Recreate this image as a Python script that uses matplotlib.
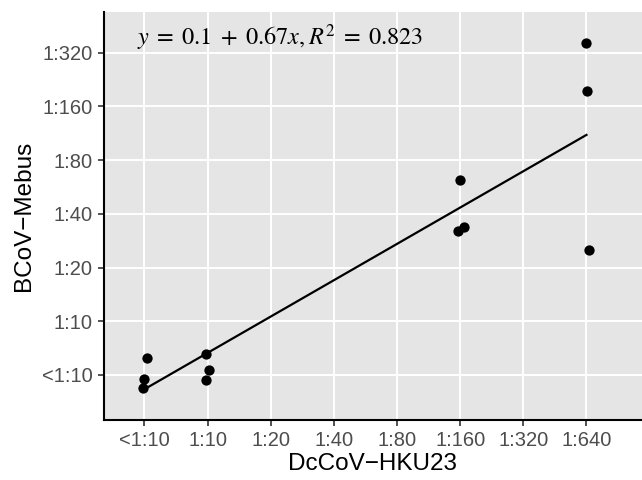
import numpy as np
import matplotlib
matplotlib.use("Agg")
import matplotlib.pyplot as plt

plt.rcParams['font.family'] = ['Liberation Sans', 'DejaVu Sans']
plt.rcParams['mathtext.fontset'] = 'stix'

# titer categories (index positions on both axes)
titres = ['<1:10', '1:10', '1:20', '1:40', '1:80', '1:160', '1:320', '1:640']

# jittered sample positions (in category index units)
x_hku23 = [7.00, 7.01, 7.04, 5.00, 4.97, 5.06, 0.04, 0.00, -0.03, 0.98, 1.03, 0.98]
y_mebus = [6.18, 5.28, 2.33, 3.63, 2.68, 2.76, 0.31, -0.07, -0.24, 0.385, 0.09, -0.09]

etiqueta = r'$y\;=\;0.1\;+\;0.67x, R^2\;=\;0.823$'

x = np.array(x_hku23)
y = np.array(y_mebus)
pend, inter = np.polyfit(x, y, 1)
x_lin = np.array([0, 7])
y_lin = inter + pend * x_lin

fig = plt.figure(figsize=(6.42, 4.8), dpi=100)
ax = fig.add_axes([104 / 642, 1 - 420 / 480, 1 - 104 / 642, (420 - 12) / 480])
ax.set_facecolor('#E5E5E5')

ax.scatter(x, y, s=55, color='black', zorder=3, linewidths=0)
ax.plot(x_lin, y_lin, color='black', lw=1.6, zorder=2)

ax.set_xticks(range(len(titres)))
ax.set_xticklabels(titres)
ax.set_yticks(range(7))
ax.set_yticklabels(titres[:7])
ax.set_xlim(-0.64, 7.88)
ax.set_ylim(-0.84, 6.76)

ax.grid(True, color='white', lw=1.4)
ax.set_axisbelow(True)
for lado in ['top', 'right']:
    ax.spines[lado].set_visible(False)
for lado in ['left', 'bottom']:
    ax.spines[lado].set_color('black')
    ax.spines[lado].set_linewidth(1.5)
ax.tick_params(colors='#4D4D4D', labelsize=14.5, length=4, width=1.2, pad=4)
ax.tick_params(axis='both', color='#333333')

ax.set_xlabel('DcCoV\u2212HKU23', fontsize=17.5, labelpad=2)
ax.set_ylabel('BCoV\u2212Mebus', fontsize=17.5, labelpad=5)

ax.text(0.062, 0.975, etiqueta, transform=ax.transAxes, fontsize=17.5,
        ha='left', va='top', color='black')

fig.savefig('out.png', dpi=100)
